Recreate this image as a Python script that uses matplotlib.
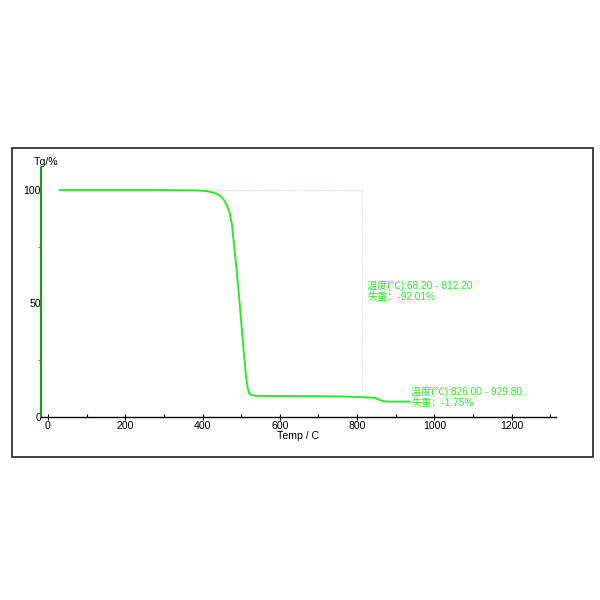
import matplotlib.pyplot as plt
from matplotlib.patches import Rectangle
from matplotlib.ticker import MultipleLocator

plt.rcParams['font.family'] = ['Liberation Sans', 'Noto Sans CJK SC', 'DejaVu Sans']

# TG curve
temp = [31, 100, 200, 300, 380, 410, 430, 445, 455, 463, 470, 476, 482, 488, 493,
        498, 503, 508, 513, 517, 521, 526, 535, 560, 650, 750, 820, 845, 855, 865,
        875, 900, 936]
weight = [100, 100, 100, 100, 99.9, 99.6, 98.8, 97.6, 95.8, 93.3, 90.0, 85.0, 75.0,
          65.0, 56.0, 46.0, 36.0, 26.0, 17.0, 12.5, 10.2, 9.5, 9.2, 9.1, 9.0, 8.9,
          8.5, 8.3, 7.6, 6.9, 6.6, 6.6, 6.6]

xticks = [0, 200, 400, 600, 800, 1000, 1200]
yticks = [0, 50, 100]
step1 = (68.20, 812.20, -92.01)
step2 = (826.00, 929.80, -1.75)

green = '#2ee82e'

fig = plt.figure(figsize=(6, 6), dpi=100)
fig.patches.append(Rectangle((0.02, 0.238), 0.968, 0.515, transform=fig.transFigure,
                             fill=False, edgecolor='#333333', linewidth=1.3))

ax = fig.add_axes([0.0683, 0.3058, 0.858, 0.414])
ax.set_xlim(-18, 1314)
ax.set_ylim(0, 109.7)

# step marker (faint dotted box)
ax.plot([step1[0], step1[1]], [100, 100], linestyle=':', color='#f2b5b5', linewidth=0.7, zorder=1)
ax.plot([step1[1], step1[1]], [100, 9.0], linestyle=':', color='#c8d8c8', linewidth=0.7, zorder=1)

ax.plot(temp, weight, color=green, linewidth=1.4, zorder=3)

ax.text(step1[1] + 14, 55.6, u'温度(℃):%.2f - %.2f\n失重：%.2f%%' % step1,
        color=green, fontsize=7.3, va='center', ha='left', linespacing=1.1)
ax.text(step2[1] + 10, 8.8, u'温度(℃):%.2f - %.2f\n失重：%.2f%%' % step2,
        color=green, fontsize=7.3, va='center', ha='left', linespacing=1.1)

for s in ['top', 'right']:
    ax.spines[s].set_visible(False)
ax.spines['left'].set_color('#1f9a1f')
ax.spines['left'].set_linewidth(1.6)
ax.spines['bottom'].set_color('black')
ax.spines['bottom'].set_linewidth(1.0)

ax.set_xticks(xticks)
ax.xaxis.set_minor_locator(MultipleLocator(100))
ax.set_yticks(yticks)
ax.yaxis.set_minor_locator(MultipleLocator(25))
ax.tick_params(axis='x', direction='inout', length=4, width=0.8, labelsize=7.6, pad=1)
ax.tick_params(axis='x', which='minor', direction='in', length=2, width=0.8)
ax.tick_params(axis='y', length=0, labelsize=7.6, pad=0)
ax.tick_params(axis='y', which='minor', direction='out', length=2, color='#1f9a1f')

ax.set_xlabel('Temp / C', fontsize=7.6, labelpad=0.5)
ax.text(-0.015, 1.003, 'Tg/%', transform=ax.transAxes, fontsize=7.6, ha='left', va='bottom')

fig.savefig('out.png', dpi=100)
